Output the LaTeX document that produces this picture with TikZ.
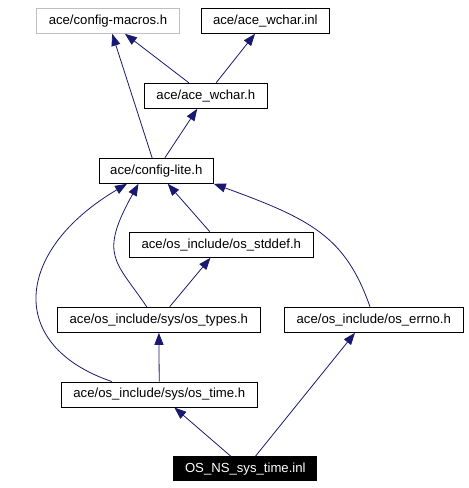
\documentclass[tikz,border=0pt]{standalone}
\usepackage{fontspec}
\setmainfont{Liberation Sans}
\usetikzlibrary{arrows.meta}
\definecolor{edgeblue}{HTML}{191970}
\definecolor{boxgrey}{HTML}{BFBFBF}

\begin{document}
\begin{tikzpicture}[x=1bp,y=-1bp,
    filebox/.style={draw=black, line width=1bp, inner sep=0pt,
      minimum height=25bp, font=\fontsize{13.2}{15}\selectfont},
    incl/.style={draw=edgeblue, line width=0.8bp,
      -{Triangle[length=12bp,width=9bp]}}]
    \useasboundingbox (0,0) rectangle (469,488);

    %% files
    \node[filebox, draw=boxgrey, minimum width=142.6bp] (macros) at (108,20.8) {ace/config-macros.h};
    \node[filebox, minimum width=128bp] (winl) at (265.3,20.8) {ace/ace\_wchar.inl};
    \node[filebox, minimum width=123bp] (wchar) at (205.8,95.8) {ace/ace\_wchar.h};
    \node[filebox, minimum width=114bp] (lite) at (156.3,170.8) {ace/config-lite.h};
    \node[filebox, minimum width=184bp] (stddef) at (221.3,244.8) {ace/os\_include/os\_stddef.h};
    \node[filebox, minimum width=203bp] (types) at (158.8,319.8) {ace/os\_include/sys/os\_types.h};
    \node[filebox, minimum width=179bp] (errno) at (373.8,319.8) {ace/os\_include/os\_errno.h};
    \node[filebox, minimum width=196bp] (ostime) at (159.3,394.5) {ace/os\_include/sys/os\_time.h};
    \node[filebox, fill=black, text=white, minimum width=142.7bp, minimum height=24bp] (nstime) at (245.3,468.8) {OS\_NS\_sys\_time.inl};

    %% straight includes
    \draw[incl] (lite) -- (macros);
    \draw[incl] (wchar) -- (macros);
    \draw[incl] (wchar) -- (winl);
    \draw[incl] (lite) -- (wchar);
    \draw[incl] (stddef) -- (lite);
    \draw[incl] (types) -- (stddef);
    \draw[incl] (ostime) -- (types);
    \draw[incl] (nstime) -- (ostime);
    \draw[incl] (nstime) -- ([xshift=-18.8bp]errno.south);

    %% bent includes
    \draw[incl] ([xshift=-47.6bp]ostime.north) .. controls (5,345) and (15,250) .. ([xshift=-29.3bp]lite.south);
    \draw[incl] ([xshift=-12.1bp]types.north) .. controls (116,261) and (98,256) .. ([xshift=-17.8bp]lite.south);
    \draw[incl] ([xshift=-3.8bp]errno.north) .. controls (345.5,237) and (311.8,219.4) .. (lite.south east);
\end{tikzpicture}
\end{document}
